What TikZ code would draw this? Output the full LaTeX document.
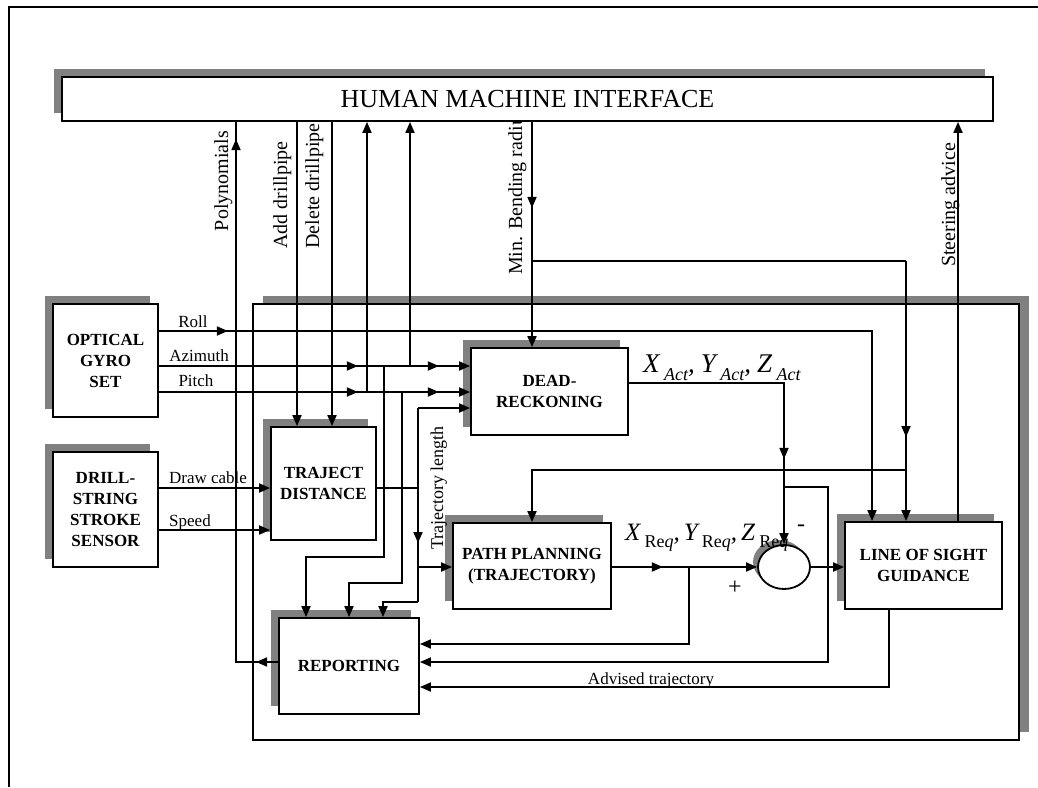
\documentclass[tikz,border=0pt]{standalone}
\usepackage{fontspec}
\setmainfont{Liberation Serif}
\usetikzlibrary{arrows.meta,shadows,decorations.markings,shapes.geometric}
\definecolor{shd}{RGB}{128,128,128}
\newcommand\mysub{\fontsize{18}{18}\selectfont}
\tikzset{
  conn/.style={line width=1.8pt},
  arr/.style={conn,-{Triangle[length=11pt,width=9pt]}},
  midarr/.style={postaction={decorate,decoration={markings,mark=at position #1 with {\arrow{Triangle[length=11pt,width=9pt]}}}}},
  blk/.style={draw,line width=1.8pt,fill=white,inner sep=0pt,align=center,
    font=\fontsize{17}{21}\selectfont\bfseries,
    drop shadow={shadow xshift=-8pt,shadow yshift=8pt,fill=shd,opacity=1}},
  lbl/.style={inner sep=0pt,font=\fontsize{17}{17}\selectfont},
  vlbl/.style={inner sep=0pt,rotate=90,font=\fontsize{20}{20}\selectfont},
}
\begin{document}
\begin{tikzpicture}[x=1pt,y=-1pt]
\useasboundingbox (0,0) rectangle (1038,787);
% page frame
\draw[line width=2.4pt] (9,787) -- (9,7) -- (1038,7);
% outer system box
\node[draw,line width=1.8pt,fill=white,minimum width=766pt,minimum height=436pt,inner sep=0pt,
  drop shadow={shadow xshift=10pt,shadow yshift=8pt,fill=shd,opacity=1}] (outer) at (636,522) {};
% label partly hidden by the HMI box
\node[vlbl,anchor=base west] (lmb) at (522,275) {Min. Bending radius};
\node[blk,minimum width=931pt,minimum height=44pt,font=\fontsize{26}{26}\selectfont] (hmi) at (527.5,99) {HUMAN MACHINE INTERFACE};
% blocks
\node[blk,minimum width=105pt,minimum height=113pt] (og) at (105.5,360.5) {OPTICAL\\GYRO\\SET};
\node[blk,minimum width=105pt,minimum height=115pt] (ds) at (105.5,509.5) {DRILL-\\STRING\\STROKE\\SENSOR};
\node[blk,minimum width=105pt,minimum height=113pt] (td) at (323.5,483.5) {TRAJECT\\DISTANCE};
\node[blk,minimum width=157pt,minimum height=87pt] (dr) at (549.5,391.5) {DEAD-\\RECKONING};
\node[blk,minimum width=158pt,minimum height=86pt] (pp) at (532,566) {PATH PLANNING\\(TRAJECTORY)};
\node[blk,minimum width=157pt,minimum height=87pt] (los) at (923.5,565.5) {LINE OF SIGHT\\GUIDANCE};
\node[blk,minimum width=140pt,minimum height=96pt] (rep) at (349,666) {REPORTING};
\node[draw,ellipse,line width=1.8pt,fill=white,minimum width=52pt,minimum height=44pt,inner sep=0pt,
  drop shadow={shadow xshift=-5pt,shadow yshift=5pt,fill=shd,opacity=1}] (sum) at (784,567) {};
% coordinates
\coordinate (rollc) at (872,331);
\coordinate (azj) at (410,366);
\coordinate (pij) at (367,392);
\coordinate (a1) at (384,366); \coordinate (a2) at (384,557); \coordinate (a3) at (306,557);
\coordinate (b1) at (402,392); \coordinate (b2) at (402,583); \coordinate (b3) at (349,583);
\coordinate (t0) at (418,488); \coordinate (t1) at (418,408); \coordinate (t2) at (418,567);
\coordinate (t3) at (418,602); \coordinate (t4) at (383,602);
\coordinate (spd) at (0,530);
\coordinate (add) at (297,0); \coordinate (del) at (332,0);
\coordinate (p1) at (236,662);
\coordinate (m1) at (532,261); \coordinate (m2) at (906,261); \coordinate (m3) at (906,470);
\coordinate (d1) at (784,383);
\coordinate (f1) at (784,487); \coordinate (f2) at (828,487); \coordinate (f3) at (828,662);
\coordinate (q1) at (689,567); \coordinate (q2) at (689,644);
\coordinate (v1) at (889,687);
\coordinate (s1) at (958,0);
% connectors
\draw[arr,midarr=69pt] (og.east |- rollc) -- (rollc) -- (los.north -| rollc);
\draw[arr,midarr=199pt,midarr=280pt] (og.east |- azj) -- (dr.west |- azj);
\draw[arr,midarr=199pt,midarr=280pt] (og.east |- pij) -- (dr.west |- pij);
\draw[arr] (azj) -- (hmi.south -| azj);
\draw[arr] (pij) -- (hmi.south -| pij);
\draw[arr] (a1) -- (a2) -- (a3) -- (rep.north -| a3);
\draw[arr] (b1) -- (b2) -- (b3) -- (rep.north -| b3);
\draw[conn] (td.east |- t0) -- (t0);
\draw[arr] (t1) -- (dr.west |- t1);
\draw[conn,midarr=135pt] (t1) -- (t3);
\draw[arr] (t2) -- (pp.west |- t2);
\draw[arr] (t3) -- (t4) -- (rep.north -| t4);
\draw[arr] (ds.east |- t0) -- (td.west |- t0);
\draw[arr] (ds.east |- spd) -- (td.west |- spd);
\draw[arr] (hmi.south -| add) -- (td.north -| add);
\draw[arr] (hmi.south -| del) -- (td.north -| del);
\draw[conn,midarr=22pt,midarr=565pt] (rep.west |- p1) -- (p1) -- (hmi.south -| p1);
\draw[arr,midarr=86pt] (hmi.south -| m1) -- (dr.north -| m1);
\draw[conn] (m1) -- (m2);
\draw[arr,midarr=176pt] (m2) -- (los.north -| m2);
\draw[arr] (m3) -- (pp.north |- m3) -- (pp.north);
\draw[arr,midarr=231pt] (dr.east |- d1) -- (d1) -- (sum.north);
\draw[arr] (f1) -- (f2) -- (f3) -- (rep.east |- f3);
\draw[arr,midarr=51pt] (pp.east |- sum.west) -- (sum.west);
\draw[arr] (q1) -- (q2) -- (rep.east |- q2);
\draw[arr] (sum.east) -- (los.west |- sum.east);
\draw[arr] (los.south -| v1) -- (v1) -- (rep.east |- v1);
\draw[arr] (los.north -| s1) -- (hmi.south -| s1);
% labels
\node[lbl,anchor=base] (lroll) at (193,327) {Roll};
\node[lbl,anchor=base] (laz) at (199,361) {Azimuth};
\node[lbl,anchor=base] (lpi) at (196,386) {Pitch};
\node[lbl,anchor=base] (ldc) at (208,483) {Draw cable};
\node[lbl,anchor=base] (lsp) at (190,526) {Speed};
\node[lbl,anchor=base] (ladv) at (651,684) {Advised trajectory};
\node[vlbl,anchor=base] (lpoly) at (228,181) {Polynomials};
\node[vlbl,anchor=base] (ladd) at (287,195) {Add drillpipe};
\node[vlbl,anchor=base] (ldel) at (319,186) {Delete drillpipe};
\node[vlbl,anchor=base] (lsteer) at (955,205) {Steering advice};
\node[vlbl,anchor=base,font=\fontsize{18}{18}\selectfont] (ltl) at (443,488) {Trajectory length};
\node[anchor=base west,inner sep=0pt,font=\fontsize{27}{27}\selectfont\itshape] (xact) at (643,372)
  {X\,\raisebox{-8pt}{\mysub Act},\hspace{6pt}Y\,\raisebox{-8pt}{\mysub Act},\hspace{6pt}Z\,\raisebox{-8pt}{\mysub Act}};
\node[anchor=base west,inner sep=0pt,font=\fontsize{25}{25}\selectfont\itshape] (xreq) at (625,540)
  {X\,\raisebox{-7pt}{\mysub\upshape Re\itshape q},\hspace{4pt}Y\,\raisebox{-7pt}{\mysub\upshape Re\itshape q},\hspace{4pt}Z\,\raisebox{-7pt}{\mysub\upshape Re\itshape q}};
\node[font=\fontsize{24}{24}\selectfont] (minus) at (801,528) {-};
\node[font=\fontsize{24}{24}\selectfont] (plus) at (735,588) {+};
\end{tikzpicture}
\end{document}
